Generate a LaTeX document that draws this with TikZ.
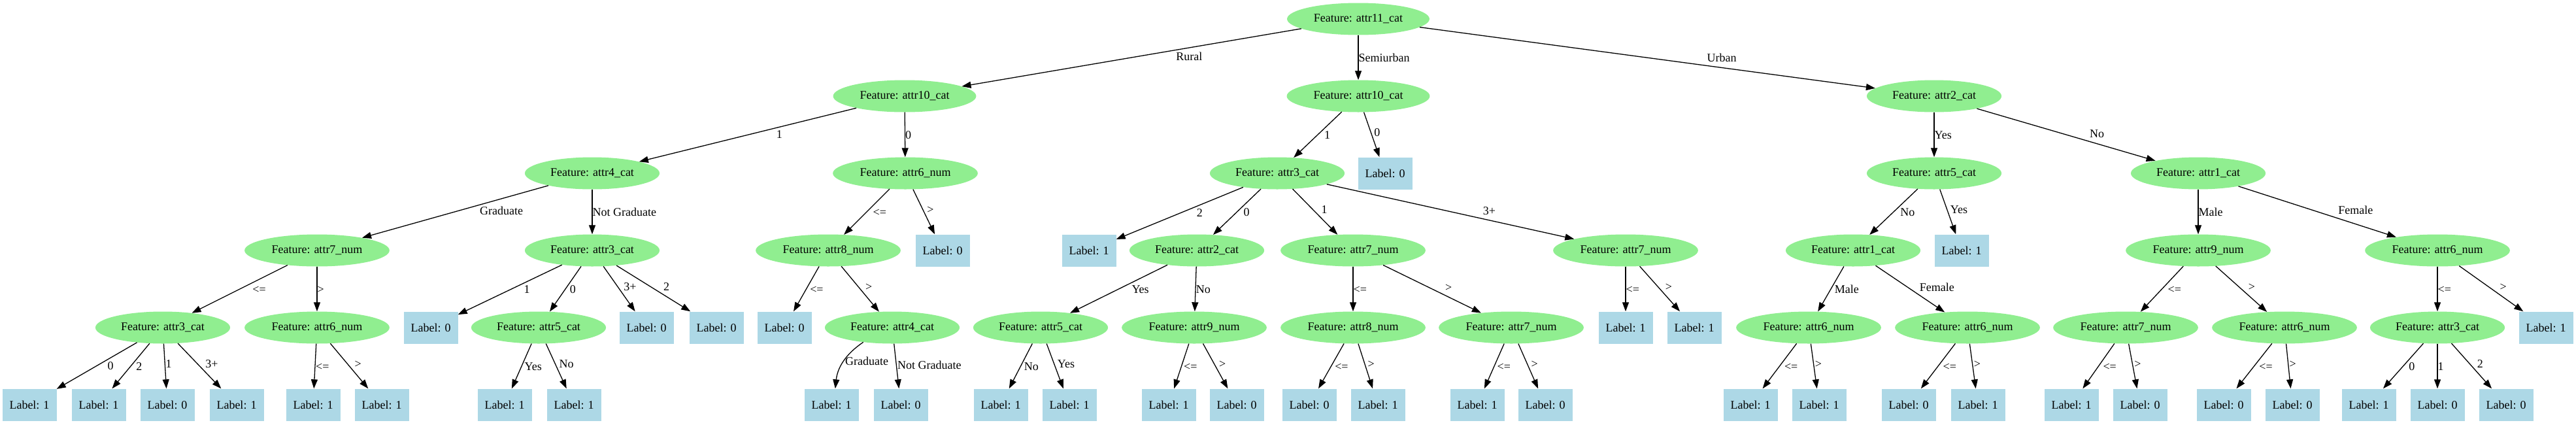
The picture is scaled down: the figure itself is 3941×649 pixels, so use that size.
\documentclass[tikz,border=0pt]{standalone}
\usepackage{fontspec}
\setmainfont{Liberation Serif}
\usepackage{tikz}
\usetikzlibrary{arrows.meta,shapes.geometric}
\definecolor{dtgreen}{RGB}{144,238,144}
\definecolor{dtblue}{RGB}{173,216,230}
\tikzstyle{feature} = [ellipse, fill=dtgreen, inner xsep=8.9pt, inner ysep=0pt, minimum height=49pt, font=\fontsize{18}{22}\selectfont]
\tikzstyle{leaf} = [rectangle, fill=dtblue, minimum width=83pt, minimum height=49pt, inner sep=0pt, font=\fontsize{18}{22}\selectfont]
\tikzstyle{arrow} = [line width=1.3pt, -{Triangle[length=14pt,width=10pt]}]
\tikzstyle{lab} = [inner sep=0pt, text height=15pt, text depth=5.5pt, font=\fontsize{18}{22}\selectfont]
\tikzstyle{toleft} = [lab, pos=0.37, anchor=north west]
\tikzstyle{toright} = [lab, pos=0.63, anchor=south west]

\begin{document}
\begin{tikzpicture}[x=1pt, y=-1pt]
\useasboundingbox (0,0) rectangle (3941,649);
% Root
\node (r) [feature] at (2078,29) {Feature: attr11\_cat};

% Level 1
\node (a) [feature] at (1384,147) {Feature: attr10\_cat};
\node (b) [feature] at (2078,147) {Feature: attr10\_cat};
\node (c) [feature] at (2959,147) {Feature: attr2\_cat};

% Level 2
\node (aa) [feature] at (906,265) {Feature: attr4\_cat};
\node (ab) [feature] at (1385,265) {Feature: attr6\_num};
\node (ba) [feature] at (1954,265) {Feature: attr3\_cat};
\node (bb) [leaf] at (2119,265) {Label: 0};
\node (ca) [feature] at (2959,265) {Feature: attr5\_cat};
\node (cb) [feature] at (3363,265) {Feature: attr1\_cat};

% Level 3
\node (aaa) [feature] at (485,383) {Feature: attr7\_num};
\node (aab) [feature] at (906,383) {Feature: attr3\_cat};
\node (aba) [feature] at (1267,383) {Feature: attr8\_num};
\node (abb) [leaf] at (1442,383) {Label: 0};
\node (baa) [leaf] at (1666,383) {Label: 1};
\node (bab) [feature] at (1831,383) {Feature: attr2\_cat};
\node (bac) [feature] at (2070,383) {Feature: attr7\_num};
\node (bad) [feature] at (2487,383) {Feature: attr7\_num};
\node (caa) [feature] at (2835,383) {Feature: attr1\_cat};
\node (cab) [leaf] at (3001,383) {Label: 1};
\node (cba) [feature] at (3363,383) {Feature: attr9\_num};
\node (cbb) [feature] at (3729,383) {Feature: attr6\_num};

% Level 4
\node (aaaa) [feature] at (249,501) {Feature: attr3\_cat};
\node (aaab) [feature] at (485,501) {Feature: attr6\_num};
\node (aaba) [leaf] at (659,501) {Label: 0};
\node (aabb) [feature] at (824,501) {Feature: attr5\_cat};
\node (aabc) [leaf] at (989,501) {Label: 0};
\node (aabd) [leaf] at (1096,501) {Label: 0};
\node (abaa) [leaf] at (1200,501) {Label: 0};
\node (abab) [feature] at (1365,501) {Feature: attr4\_cat};
\node (baba) [feature] at (1592,501) {Feature: attr5\_cat};
\node (babb) [feature] at (1827,501) {Feature: attr9\_num};
\node (baca) [feature] at (2070,501) {Feature: attr8\_num};
\node (bacb) [feature] at (2312,501) {Feature: attr7\_num};
\node (bada) [leaf] at (2487,501) {Label: 1};
\node (badb) [leaf] at (2592,501) {Label: 1};
\node (caaa) [feature] at (2767,501) {Feature: attr6\_num};
\node (caab) [feature] at (3010,501) {Feature: attr6\_num};
\node (cbaa) [feature] at (3252,501) {Feature: attr7\_num};
\node (cbab) [feature] at (3495,501) {Feature: attr6\_num};
\node (cbba) [feature] at (3729,501) {Feature: attr3\_cat};
\node (cbbb) [leaf] at (3895,501) {Label: 1};

% Level 5
\node (aaaaa) [leaf] at (45,619) {Label: 1};
\node (aaaab) [leaf] at (151,619) {Label: 1};
\node (aaaac) [leaf] at (256,619) {Label: 0};
\node (aaaad) [leaf] at (362,619) {Label: 1};
\node (aaaba) [leaf] at (479,619) {Label: 1};
\node (aaabb) [leaf] at (584,619) {Label: 1};
\node (aabba) [leaf] at (772,619) {Label: 1};
\node (aabbb) [leaf] at (878,619) {Label: 1};
\node (ababa) [leaf] at (1272,619) {Label: 1};
\node (ababb) [leaf] at (1378,619) {Label: 0};
\node (babaa) [leaf] at (1531,619) {Label: 1};
\node (babab) [leaf] at (1636,619) {Label: 1};
\node (babba) [leaf] at (1788,619) {Label: 1};
\node (babbb) [leaf] at (1892,619) {Label: 0};
\node (bacaa) [leaf] at (2003,619) {Label: 0};
\node (bacab) [leaf] at (2108,619) {Label: 1};
\node (bacba) [leaf] at (2260,619) {Label: 1};
\node (bacbb) [leaf] at (2364,619) {Label: 0};
\node (caaaa) [leaf] at (2678,619) {Label: 1};
\node (caaab) [leaf] at (2783,619) {Label: 1};
\node (caaba) [leaf] at (2920,619) {Label: 0};
\node (caabb) [leaf] at (3026,619) {Label: 1};
\node (cbaaa) [leaf] at (3169,619) {Label: 1};
\node (cbaab) [leaf] at (3274,619) {Label: 0};
\node (cbaba) [leaf] at (3402,619) {Label: 0};
\node (cbabb) [leaf] at (3507,619) {Label: 0};
\node (cbbaa) [leaf] at (3624,619) {Label: 1};
\node (cbbab) [leaf] at (3729,619) {Label: 0};
\node (cbbac) [leaf] at (3834,619) {Label: 0};

% Edges, level 0 -> 1
\draw [arrow] (r) -- node[toleft] {Rural} (a);
\draw [arrow] (r) -- node[toleft] {Semiurban} (b);
\draw [arrow] (r) -- node[toright] {Urban} (c);

% Edges, level 1 -> 2
\draw [arrow] (a) -- node[toleft] {1} (aa);
\draw [arrow] (a) -- node[toleft] {0} (ab);
\draw [arrow] (b) -- node[toleft] {1} (ba);
\draw [arrow] (b) -- node[toright] {0} (bb);
\draw [arrow] (c) -- node[toleft] {Yes} (ca);
\draw [arrow] (c) -- node[toright] {No} (cb);

% Edges, level 2 -> 3
\draw [arrow] (aa) -- node[toleft] {Graduate} (aaa);
\draw [arrow] (aa) -- node[toleft] {Not Graduate} (aab);
\draw [arrow] (ab) -- node[toleft] {<=} (aba);
\draw [arrow] (ab) -- node[toright] {>} (abb);
\draw [arrow] (ba) -- node[toleft] {2} (baa);
\draw [arrow] (ba) -- node[toleft] {0} (bab);
\draw [arrow] (ba) -- node[toright] {1} (bac);
\draw [arrow] (ba) -- node[toright] {3+} (bad);
\draw [arrow] (ca) -- node[toleft] {No} (caa);
\draw [arrow] (ca) -- node[toright] {Yes} (cab);
\draw [arrow] (cb) -- node[toleft] {Male} (cba);
\draw [arrow] (cb) -- node[toright] {Female} (cbb);

% Edges, level 3 -> 4
\draw [arrow] (aaa) -- node[toleft] {<=} (aaaa);
\draw [arrow] (aaa) -- node[toleft] {>} (aaab);
\draw [arrow] (aab) -- node[toleft] {1} (aaba);
\draw [arrow] (aab) -- node[toleft] {0} (aabb);
\draw [arrow] (aab) -- node[toright] {3+} (aabc);
\draw [arrow] (aab) -- node[toright] {2} (aabd);
\draw [arrow] (aba) -- node[toleft] {<=} (abaa);
\draw [arrow] (aba) -- node[toright] {>} (abab);
\draw [arrow] (bab) -- node[toleft] {Yes} (baba);
\draw [arrow] (bab) -- node[toleft] {No} (babb);
\draw [arrow] (bac) -- node[toleft] {<=} (baca);
\draw [arrow] (bac) -- node[toright] {>} (bacb);
\draw [arrow] (bad) -- node[toleft] {<=} (bada);
\draw [arrow] (bad) -- node[toright] {>} (badb);
\draw [arrow] (caa) -- node[toleft] {Male} (caaa);
\draw [arrow] (caa) -- node[toright] {Female} (caab);
\draw [arrow] (cba) -- node[toleft] {<=} (cbaa);
\draw [arrow] (cba) -- node[toright] {>} (cbab);
\draw [arrow] (cbb) -- node[toleft] {<=} (cbba);
\draw [arrow] (cbb) -- node[toright] {>} (cbbb);

% Edges, level 4 -> 5
\draw [arrow] (aaaa) -- node[toleft] {0} (aaaaa);
\draw [arrow] (aaaa) -- node[toleft] {2} (aaaab);
\draw [arrow] (aaaa) -- node[toright] {1} (aaaac);
\draw [arrow] (aaaa) -- node[toright] {3+} (aaaad);
\draw [arrow] (aaab) -- node[toleft] {<=} (aaaba);
\draw [arrow] (aaab) -- node[toright] {>} (aaabb);
\draw [arrow] (aabb) -- node[toleft] {Yes} (aabba);
\draw [arrow] (aabb) -- node[toright] {No} (aabbb);
\draw [arrow] (abab) to[bend right=25] node[lab, pos=0.5, anchor=west, xshift=2pt] {Graduate} (ababa);
\draw [arrow] (abab) -- node[lab, pos=0.5, anchor=west, xshift=1pt] {Not Graduate} (ababb);
\draw [arrow] (baba) -- node[toleft] {No} (babaa);
\draw [arrow] (baba) -- node[toright] {Yes} (babab);
\draw [arrow] (babb) -- node[toleft] {<=} (babba);
\draw [arrow] (babb) -- node[toright] {>} (babbb);
\draw [arrow] (baca) -- node[toleft] {<=} (bacaa);
\draw [arrow] (baca) -- node[toright] {>} (bacab);
\draw [arrow] (bacb) -- node[toleft] {<=} (bacba);
\draw [arrow] (bacb) -- node[toright] {>} (bacbb);
\draw [arrow] (caaa) -- node[toleft] {<=} (caaaa);
\draw [arrow] (caaa) -- node[toright] {>} (caaab);
\draw [arrow] (caab) -- node[toleft] {<=} (caaba);
\draw [arrow] (caab) -- node[toright] {>} (caabb);
\draw [arrow] (cbaa) -- node[toleft] {<=} (cbaaa);
\draw [arrow] (cbaa) -- node[toright] {>} (cbaab);
\draw [arrow] (cbab) -- node[toleft] {<=} (cbaba);
\draw [arrow] (cbab) -- node[toright] {>} (cbabb);
\draw [arrow] (cbba) -- node[toleft] {0} (cbbaa);
\draw [arrow] (cbba) -- node[toleft] {1} (cbbab);
\draw [arrow] (cbba) -- node[toright] {2} (cbbac);
\end{tikzpicture}
\end{document}
